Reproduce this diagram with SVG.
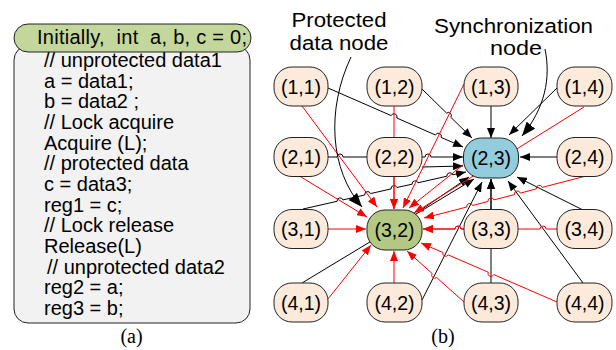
<svg xmlns="http://www.w3.org/2000/svg" width="616" height="350" viewBox="0 0 616 350">
<style>
.code{font-family:"Liberation Sans",Arial,sans-serif;font-size:20px;fill:#000}
.lbl{font-family:"Liberation Sans",Arial,sans-serif;font-size:19.5px;fill:#000;text-anchor:middle}
.call{font-family:"Liberation Sans",Arial,sans-serif;font-size:20px;fill:#000;text-anchor:middle}
.cap{font-family:"Liberation Serif","Times New Roman",serif;font-size:20px;fill:#000;text-anchor:middle}
.node{fill:#fdeada;stroke:#222;stroke-width:1}
.blk{fill:none;stroke:#000;stroke-width:1;marker-end:url(#ab)}
.red{fill:none;stroke:#f00;stroke-width:1;marker-end:url(#ar)}
.co{fill:none;stroke:#000;stroke-width:1;marker-end:url(#abig)}
</style>
<defs>
<marker id="ab" markerWidth="10" markerHeight="8" refX="10" refY="4" orient="auto" markerUnits="userSpaceOnUse"><path d="M0,0 L10,4 L0,8 z" fill="#000"/></marker>
<marker id="ar" markerWidth="10" markerHeight="8" refX="10" refY="4" orient="auto" markerUnits="userSpaceOnUse"><path d="M0,0 L10,4 L0,8 z" fill="#f00"/></marker>
<marker id="abig" markerWidth="14" markerHeight="11" refX="14" refY="5.5" orient="auto" markerUnits="userSpaceOnUse"><path d="M0,0 L14,5.5 L0,11 z" fill="#000"/></marker>
</defs>
<rect width="616" height="350" fill="#fff"/>

<!-- Panel (a) -->
<g id="code-box">
<rect x="14" y="46" width="236" height="277" rx="14" fill="#f2f2f2" stroke="#222" stroke-width="1"/>
<text class="code" x="44" y="67">// unprotected data1</text>
<text class="code" x="44" y="87.7">a = data1;</text>
<text class="code" x="44" y="108.3">b = data2 ;</text>
<text class="code" x="44" y="129">// Lock acquire</text>
<text class="code" x="44" y="149.7">Acquire (L);</text>
<text class="code" x="44" y="170.3">// protected data</text>
<text class="code" x="44" y="191">c = data3;</text>
<text class="code" x="44" y="211.7">reg1 = c;</text>
<text class="code" x="44" y="232.3">// Lock release</text>
<text class="code" x="44" y="253">Release(L)</text>
<text class="code" x="47" y="273.7">// unprotected data2</text>
<text class="code" x="44" y="294.3">reg2 = a;</text>
<text class="code" x="44" y="315">reg3 = b;</text>
</g>
<g id="init">
<rect x="14" y="24" width="237" height="28" rx="14" fill="#c3d69b" stroke="#222" stroke-width="1"/>
<text class="code" x="37" y="44" xml:space="preserve" textLength="210" lengthAdjust="spacing">Initially,  int  a, b, c = 0;</text>
</g>
<text class="cap" x="131.5" y="343">(a)</text>

<!-- Panel (b) connectors -->
<g id="connectors">
<path class="blk" d="M328,88 L391.2,115.6 A3,3 0 0 1 396.8,118 L435.5,135 A3,3 0 0 1 441.1,137.4 L463,147"/>
<path class="blk" d="M422,89 L446.6,113.1 A3,3 0 0 1 450.8,117.3 L472,138"/>
<path class="blk" d="M491,106 L491,138"/>
<path class="blk" d="M557,88 L509,135"/>
<path class="blk" d="M328,157 L337,157 A3,3 0 0 1 343,157 L425,157 A3,3 0 0 1 431,157 L463,157"/>
<path class="blk" d="M422,167 L463,166"/>
<path class="blk" d="M557,157 L520,157"/>
<path class="blk" d="M303,209 L337.1,201.3 A3,3 0 0 1 342.9,199.9 L364.7,195 A3,3 0 0 1 370.5,193.6 L391.1,188.9 A3,3 0 0 1 396.9,187.5 L412.1,184.2 A3,3 0 0 1 417.9,182.8 L446.9,176.2 A3,3 0 0 1 452.7,174.8 L466,172"/>
<path class="blk" d="M418,212 L469,177"/>
<path class="blk" d="M302,283 L474,179"/>
<path class="blk" d="M422,300 L482,182"/>
<path class="blk" d="M491,209 L491,179"/>
<path class="blk" d="M491,283 L491,179"/>
<path class="blk" d="M583,210 L517,177"/>
<path class="blk" d="M583,283 L508,181"/>

<path class="red" d="M302,106 L377,207"/>
<path class="red" d="M301,177 L367,217"/>
<path class="red" d="M394,106 L394,209"/>
<path class="red" d="M464,84 L403,208"/>
<path class="red" d="M584,107 L414,213"/>
<path class="red" d="M463,165 L409,208"/>
<path class="red" d="M586,176 L542.1,187.4 A3,3 0 0 0 536.3,188.9 L520.3,193.1 A3,3 0 0 0 514.5,194.6 L493.9,199.9 A3,3 0 0 0 488.1,201.4 L472.6,205.5 A3,3 0 0 0 466.8,207 L424,218"/>
<path class="red" d="M464,229 L461,229 A3,3 0 0 0 455,229 L423,229"/>
<path class="red" d="M557,229 L546,229 A3,3 0 0 0 540,229 L461,229 A3,3 0 0 0 455,229 L423,229"/>
<path class="red" d="M328,229 L366,229"/>
<path class="red" d="M328,299 L371,245"/>
<path class="red" d="M394,283 L394,251"/>
<path class="red" d="M464,302 L436.6,277.5 A3,3 0 0 1 432.2,273.5 L407,251"/>
<path class="red" d="M557,302 L493.8,274.6 A3,3 0 0 1 488.2,272.2 L448.2,254.9 A3,3 0 0 1 442.8,252.5 L421,243"/>
<path class="red" d="M394,177 L394,209"/>

<path class="co" d="M351,57 C326,110 330,170 362,207"/>
<path class="co" d="M545,49 C551,78 545,108 522,136"/>
</g>

<!-- Nodes -->
<g id="n11"><rect class="node" x="274" y="67" width="54" height="39" rx="18"/><text class="lbl" x="301" y="93.5">(1,1)</text></g>
<g id="n12"><rect class="node" x="367" y="67" width="55" height="39" rx="18"/><text class="lbl" x="394.5" y="93.5">(1,2)</text></g>
<g id="n13"><rect class="node" x="464" y="67" width="54" height="39" rx="18"/><text class="lbl" x="491" y="93.5">(1,3)</text></g>
<g id="n14"><rect class="node" x="557" y="67" width="55" height="39" rx="18"/><text class="lbl" x="584.5" y="93.5">(1,4)</text></g>

<g id="n21"><rect class="node" x="274" y="137.5" width="54" height="39" rx="18"/><text class="lbl" x="301" y="164">(2,1)</text></g>
<g id="n22"><rect class="node" x="367" y="137.5" width="55" height="39" rx="18"/><text class="lbl" x="394.5" y="164">(2,2)</text></g>
<g id="n23"><rect x="463.5" y="138" width="55" height="40" rx="18" fill="#93cddd" stroke="#222" stroke-width="1"/><text class="lbl" x="491" y="165">(2,3)</text></g>
<g id="n24"><rect class="node" x="557" y="137.5" width="55" height="39" rx="18"/><text class="lbl" x="584.5" y="164">(2,4)</text></g>

<g id="n31"><rect class="node" x="274" y="209.5" width="54" height="39" rx="18"/><text class="lbl" x="301" y="236">(3,1)</text></g>
<g id="n32"><rect x="367" y="210" width="55" height="40" rx="18" fill="#b3c983" stroke="#222" stroke-width="1"/><text class="lbl" x="394.5" y="237">(3,2)</text></g>
<g id="n33"><rect class="node" x="464" y="209.5" width="54" height="39" rx="18"/><text class="lbl" x="491" y="236">(3,3)</text></g>
<g id="n34"><rect class="node" x="557" y="209.5" width="55" height="39" rx="18"/><text class="lbl" x="584.5" y="236">(3,4)</text></g>

<g id="n41"><rect class="node" x="274" y="283" width="54" height="39" rx="18"/><text class="lbl" x="301" y="309.5">(4,1)</text></g>
<g id="n42"><rect class="node" x="367" y="283" width="55" height="39" rx="18"/><text class="lbl" x="394.5" y="309.5">(4,2)</text></g>
<g id="n43"><rect class="node" x="464" y="283" width="54" height="39" rx="18"/><text class="lbl" x="491" y="309.5">(4,3)</text></g>
<g id="n44"><rect class="node" x="557" y="283" width="55" height="39" rx="18"/><text class="lbl" x="584.5" y="309.5">(4,4)</text></g>

<g id="callout-labels">
<text class="call" x="339" y="27" textLength="95" lengthAdjust="spacingAndGlyphs">Protected</text>
<text class="call" x="339" y="50" textLength="99" lengthAdjust="spacingAndGlyphs">data node</text>
<text class="call" x="513.5" y="33" textLength="159" lengthAdjust="spacingAndGlyphs">Synchronization</text>
<text class="call" x="516" y="55" textLength="52" lengthAdjust="spacingAndGlyphs">node</text>
</g>
<text class="cap" x="443" y="343">(b)</text>
</svg>
